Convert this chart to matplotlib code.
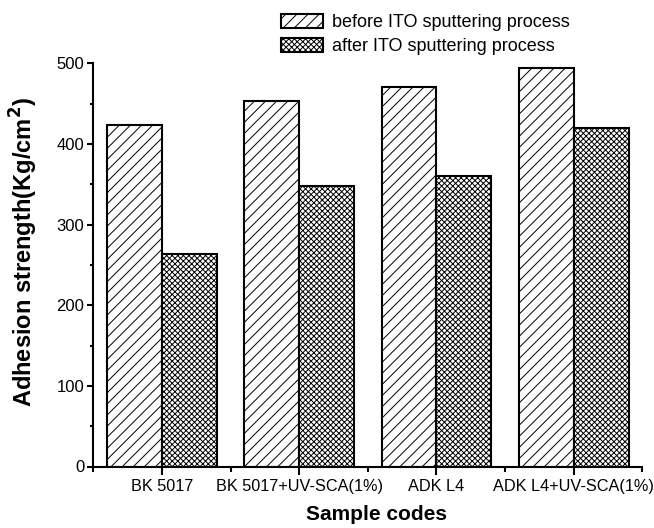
import numpy as np
import matplotlib.pyplot as plt
from matplotlib.ticker import MultipleLocator, FixedLocator

plt.rcParams['font.family'] = ['Liberation Sans', 'DejaVu Sans']
plt.rcParams['hatch.linewidth'] = 0.7

samples = ["BK 5017", "BK 5017+UV-SCA(1%)", "ADK L4", "ADK L4+UV-SCA(1%)"]
before_ito = [423, 453, 471, 494]
after_ito = [264, 348, 360, 420]

x = np.arange(1, len(samples) + 1)
w = 0.4

fig = plt.figure(figsize=(6.54, 5.28), dpi=100)
ax = fig.add_axes([93.3 / 654, 61.5 / 528, 549 / 654, 403.2 / 528])

b1 = ax.bar(x - w / 2, before_ito, w, color='white', edgecolor='black',
            hatch='///', linewidth=1.5, label='before ITO sputtering process')
b2 = ax.bar(x + w / 2, after_ito, w, color='white', edgecolor='black',
            hatch='xxxxxx', linewidth=1.5, label='after ITO sputtering process')

ax.set_xlim(0.5, 4.5)
ax.set_ylim(0, 500)
ax.spines['top'].set_visible(False)
ax.spines['right'].set_visible(False)
for s in ('left', 'bottom'):
    ax.spines[s].set_linewidth(1.5)

ax.set_xticks(x)
ax.set_xticklabels(samples, fontsize=11.7)
ax.xaxis.set_minor_locator(FixedLocator(np.arange(0.5, 4.6, 1.0)))
ax.yaxis.set_major_locator(MultipleLocator(100))
ax.yaxis.set_minor_locator(MultipleLocator(50))
ax.tick_params(axis='x', which='major', length=5.8, width=1.5, direction='out', pad=3)
ax.tick_params(axis='x', which='minor', length=3.6, width=1.5, direction='out')
ax.tick_params(axis='y', which='major', length=4.5, width=1.5, direction='out', labelsize=12, pad=2)
ax.tick_params(axis='y', which='minor', length=2.2, width=1.5, direction='out')

ax.set_xlabel('Sample codes', fontsize=15, fontweight='bold')
ax.xaxis.set_label_coords((376 - 93.3) / 549, -0.095)
ax.set_ylabel('Adhesion strength(Kg/cm$^\\mathbf{2}$)', fontsize=17, fontweight='bold')
ax.yaxis.set_label_coords((40 - 93.3) / 549, (466.5 - 252.5) / 403.2)

fig.legend(handles=[b1, b2], loc='upper left',
           bbox_to_anchor=(281 / 654, 1 - 14 / 528), frameon=False,
           fontsize=13, handlelength=2.3, handleheight=0.85,
           handletextpad=0.5, labelspacing=0.35, borderpad=0, borderaxespad=0)

fig.savefig('out.png', dpi=100)
